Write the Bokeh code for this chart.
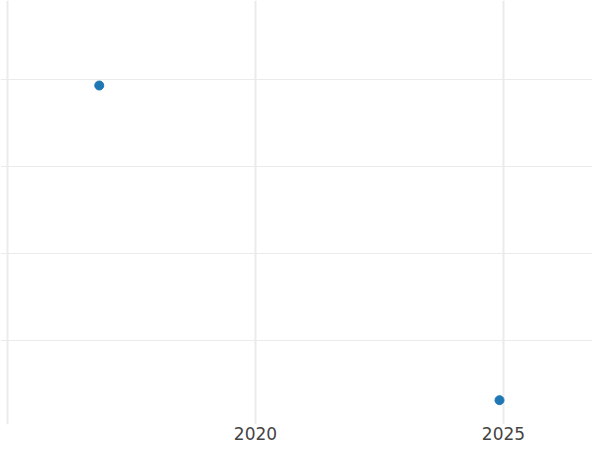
from bokeh.plotting import figure
from bokeh.models import FixedTicker, Range1d
from bokeh.embed import file_html
from bokeh.resources import INLINE

years = [2016.85, 2024.92]
values = [3.93, 0.31]
x_ticks = [2015, 2020, 2025]
y_ticks = [1, 2, 3, 4]

p = figure(width=592, height=442, output_backend="svg", toolbar_location=None,
           x_range=Range1d(2014.859, 2026.795), y_range=Range1d(0.03, 4.908),
           min_border_left=0, min_border_right=0, min_border_top=0, min_border_bottom=0)
p.outline_line_color = None
p.background_fill_color = "white"
p.border_fill_color = "white"

p.scatter(years, values, size=9, color="#1f77b4", line_color="#1f77b4")

p.xaxis.ticker = FixedTicker(ticks=x_ticks)
p.xaxis.major_label_overrides = {2015: ""}
p.xaxis.axis_line_color = None
p.xaxis.major_tick_line_color = None
p.xaxis.major_tick_out = 0
p.xaxis.major_tick_in = 0
p.xaxis.minor_tick_line_color = None
p.xaxis.major_label_text_font = "DejaVu Sans"
p.xaxis.major_label_text_font_size = "17px"
p.xaxis.major_label_text_color = "#444444"
p.xaxis.major_label_standoff = 2

p.yaxis.visible = False
p.xgrid.ticker = FixedTicker(ticks=x_ticks)
p.xgrid.grid_line_color = "#ebebeb"
p.xgrid.grid_line_width = 2
p.ygrid.ticker = FixedTicker(ticks=y_ticks)
p.ygrid.grid_line_color = "#ebebeb"
p.ygrid.grid_line_width = 1

open("out.html", "w").write(file_html(p, INLINE))
